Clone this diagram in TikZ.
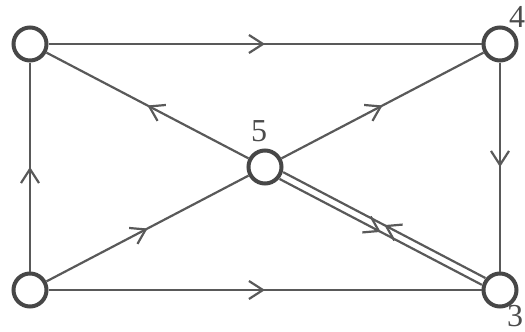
\documentclass[tikz,border=0pt]{standalone}
\usepackage{fontspec}
\setmainfont{Liberation Serif}
\usetikzlibrary{arrows.meta,decorations.markings}

\begin{document}
\begin{tikzpicture}[x=0.5pt, y=-0.5pt,
  vertex/.style={circle, draw=black!72, line width=2pt, fill=white,
    minimum size=16.5pt, inner sep=0pt},
  edge/.style={draw=black!65, line width=1.1pt, postaction={decorate},
    decoration={markings, mark=at position 0.5 with
      {\arrow{Straight Barb[length=7pt,width=9pt,line width=1.1pt]}}}},
  lbl/.style={font=\fontsize{16}{18}\selectfont, text=black!70, inner sep=0pt}]
  \useasboundingbox (0,0) rectangle (525,332);

  % Vertices
  \node[vertex] (v1) at (30,44)  {};
  \node[vertex] (v4) at (500,44) {};
  \node[vertex] (v5) at (265,167) {};
  \node[vertex] (v2) at (30,290) {};
  \node[vertex] (v3) at (500,290) {};

  % Labels 4, 5, 3
  \node[lbl] (l4) at (517,17)  {4};
  \node[lbl] (l5) at (259,131) {5};
  \node[lbl] (l3) at (515,316) {3};

  % Outer rectangle
  \draw[edge] (v1) -- (v4);
  \draw[edge] (v4) -- (v3);
  \draw[edge] (v2) -- (v3);
  \draw[edge] (v2) -- (v1);

  % Diagonals through 5
  \draw[edge] (v5) -- (v1);
  \draw[edge] (v5) -- (v4);
  \draw[edge] (v2) -- (v5);

  % Pair of parallel edges between 5 and 3
  \draw[edge, transform canvas={shift={(1.8,-3.4)}}] (v3) -- (v5);
  \draw[edge, transform canvas={shift={(-1.8,3.4)}}] (v5) -- (v3);
\end{tikzpicture}
\end{document}
